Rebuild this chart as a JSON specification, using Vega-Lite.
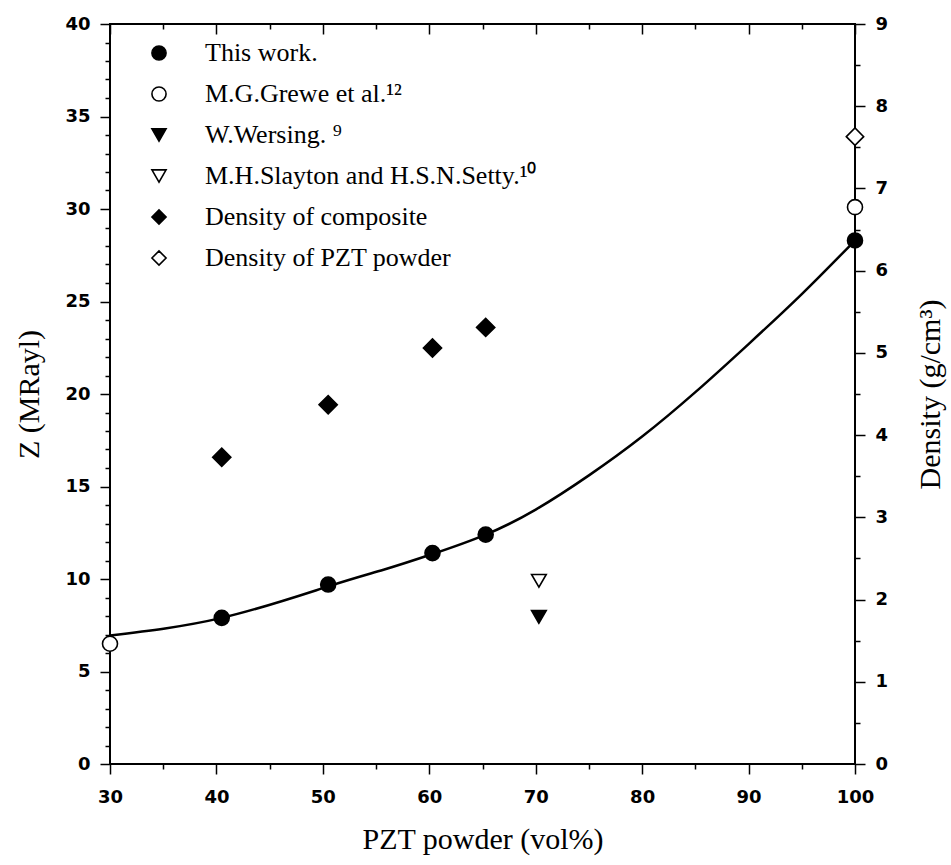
{
  "$schema": "https://vega.github.io/schema/vega-lite/v6.json",
  "autosize": {"type": "none"},
  "width": 745,
  "height": 740,
  "padding": {"left": 110, "top": 24, "right": 96, "bottom": 101},
  "background": "white",
  "datasets": {
    "pts": [
      {"pzt": 40.5, "val": 7.9, "series": "This work."},
      {"pzt": 50.5, "val": 9.7, "series": "This work."},
      {"pzt": 60.3, "val": 11.4, "series": "This work."},
      {"pzt": 65.3, "val": 12.4, "series": "This work."},
      {"pzt": 100, "val": 28.3, "series": "This work."},
      {"pzt": 30, "val": 6.5, "series": "M.G.Grewe et al.¹²"},
      {"pzt": 100, "val": 30.1, "series": "M.G.Grewe et al.¹²"},
      {"pzt": 70.3, "val": 7.95, "series": "W.Wersing. ⁹"},
      {"pzt": 70.3, "val": 9.9, "series": "M.H.Slayton and H.S.N.Setty.¹⁰"},
      {"pzt": 40.5, "val": 3.73, "series": "Density of composite"},
      {"pzt": 50.5, "val": 4.37, "series": "Density of composite"},
      {"pzt": 60.3, "val": 5.06, "series": "Density of composite"},
      {"pzt": 65.3, "val": 5.31, "series": "Density of composite"},
      {"pzt": 100, "val": 7.63, "series": "Density of PZT powder"}
    ],
    "curve": [
      {"pzt": 30, "z": 6.95},
      {"pzt": 40.5, "z": 7.9},
      {"pzt": 50.5, "z": 9.6},
      {"pzt": 55.7, "z": 10.5},
      {"pzt": 60.3, "z": 11.35},
      {"pzt": 65.3, "z": 12.4},
      {"pzt": 70, "z": 13.75},
      {"pzt": 75, "z": 15.6},
      {"pzt": 80, "z": 17.7},
      {"pzt": 85, "z": 20.1},
      {"pzt": 90, "z": 22.7},
      {"pzt": 95, "z": 25.4},
      {"pzt": 100, "z": 28.3}
    ]
  },
  "layer": [
    {
      "data": {"name": "pts"},
      "transform": [{"filter": "datum.series == 'This work.' || datum.series == 'M.G.Grewe et al.¹²'"}],
      "mark": {"type": "point", "strokeWidth": 1.6, "opacity": 1, "size": 225},
      "encoding": {
        "x": {"field": "pzt", "type": "quantitative", "scale": {"domain": [30, 100], "nice": false, "zero": false},
          "axis": {"orient": "bottom", "values": [30, 40, 50, 60, 70, 80, 90, 100], "tickSize": 10, "labelPadding": 14, "title": "PZT powder (vol%)", "titlePadding": 18}},
        "y": {"field": "val", "type": "quantitative", "scale": {"domain": [0, 40], "nice": false, "zero": false},
          "axis": {"orient": "left", "values": [0, 5, 10, 15, 20, 25, 30, 35, 40], "tickSize": 10, "labelPadding": 10, "title": "Z (MRayl)", "titlePadding": 20}},
        "stroke": {"field": "series", "type": "nominal",
          "scale": {"domain": ["This work.", "M.G.Grewe et al.¹²", "W.Wersing. ⁹", "M.H.Slayton and H.S.N.Setty.¹⁰", "Density of composite", "Density of PZT powder"],
                    "range": ["black", "black", "black", "black", "black", "black"]},
          "legend": {"orient": "none", "legendX": 36, "legendY": 16, "title": null}},
        "shape": {"field": "series", "type": "nominal",
          "scale": {"domain": ["This work.", "M.G.Grewe et al.¹²", "W.Wersing. ⁹", "M.H.Slayton and H.S.N.Setty.¹⁰", "Density of composite", "Density of PZT powder"],
                    "range": ["circle", "circle", "triangle-down", "triangle-down", "diamond", "diamond"]},
          "legend": {"orient": "none", "legendX": 36, "legendY": 16, "title": null}},
        "fill": {"field": "series", "type": "nominal",
          "scale": {"domain": ["This work.", "M.G.Grewe et al.¹²", "W.Wersing. ⁹", "M.H.Slayton and H.S.N.Setty.¹⁰", "Density of composite", "Density of PZT powder"],
                    "range": ["black", "white", "black", "white", "black", "white"]},
          "legend": {"orient": "none", "legendX": 36, "legendY": 16, "title": null}}
      }
    },
    {
      "data": {"name": "curve"},
      "mark": {"type": "line", "stroke": "black", "strokeWidth": 2.5, "interpolate": "natural"},
      "encoding": {
        "x": {"field": "pzt", "type": "quantitative", "scale": {"domain": [30, 100], "nice": false, "zero": false},
          "axis": {"orient": "top", "values": [30, 40, 50, 60, 70, 80, 90, 100], "tickSize": -10, "labels": false, "title": null}},
        "y": {"field": "z", "type": "quantitative", "scale": {"domain": [0, 40], "nice": false, "zero": false},
          "axis": {"orient": "left", "values": [1,2,3,4,6,7,8,9,11,12,13,14,16,17,18,19,21,22,23,24,26,27,28,29,31,32,33,34,36,37,38,39], "tickSize": 5, "labels": false, "title": null}}
      }
    },
    {
      "data": {"name": "pts"},
      "transform": [{"filter": "datum.series == 'W.Wersing. ⁹' || datum.series == 'M.H.Slayton and H.S.N.Setty.¹⁰'"}],
      "mark": {"type": "point", "strokeWidth": 1.6, "opacity": 1, "size": 215},
      "encoding": {
        "x": {"field": "pzt", "type": "quantitative", "scale": {"domain": [30, 100], "nice": false, "zero": false}, "axis": null},
        "y": {"field": "val", "type": "quantitative", "scale": {"domain": [0, 40], "nice": false, "zero": false}, "axis": null},
        "stroke": {"field": "series", "type": "nominal"},
        "shape": {"field": "series", "type": "nominal"},
        "fill": {"field": "series", "type": "nominal"}
      }
    },
    {
      "data": {"name": "pts"},
      "transform": [{"filter": "datum.series == 'Density of composite'"}],
      "mark": {"type": "point", "strokeWidth": 1.6, "opacity": 1, "size": 330},
      "encoding": {
        "x": {"field": "pzt", "type": "quantitative", "scale": {"domain": [30, 100], "nice": false, "zero": false},
          "axis": {"orient": "bottom", "values": [35, 45, 55, 65, 75, 85, 95], "tickSize": 5, "labels": false, "title": null}},
        "y": {"field": "val", "type": "quantitative", "scale": {"domain": [0, 9], "nice": false, "zero": false},
          "axis": {"orient": "right", "values": [0, 1, 2, 3, 4, 5, 6, 7, 8, 9], "tickSize": 10, "labelPadding": 10, "title": "Density (g/cm³)", "titleAngle": 270, "titleBaseline": "top", "titlePadding": 28}},
        "stroke": {"field": "series", "type": "nominal"},
        "shape": {"field": "series", "type": "nominal"},
        "fill": {"field": "series", "type": "nominal"}
      }
    },
    {
      "data": {"name": "pts"},
      "transform": [{"filter": "datum.series == 'Density of PZT powder'"}],
      "mark": {"type": "point", "strokeWidth": 1.6, "opacity": 1, "size": 300},
      "encoding": {
        "x": {"field": "pzt", "type": "quantitative", "scale": {"domain": [30, 100], "nice": false, "zero": false},
          "axis": {"orient": "top", "values": [35, 45, 55, 65, 75, 85, 95], "tickSize": -5, "labels": false, "title": null}},
        "y": {"field": "val", "type": "quantitative", "scale": {"domain": [0, 9], "nice": false, "zero": false},
          "axis": {"orient": "right", "values": [0.5, 1.5, 2.5, 3.5, 4.5, 5.5, 6.5, 7.5, 8.5], "tickSize": 5, "labels": false, "title": null}},
        "stroke": {"field": "series", "type": "nominal"},
        "shape": {"field": "series", "type": "nominal"},
        "fill": {"field": "series", "type": "nominal"}
      }
    }
  ],
  "resolve": {
    "scale": {"x": "independent", "y": "independent", "shape": "shared", "fill": "shared", "stroke": "shared"},
    "axis": {"x": "independent", "y": "independent"},
    "legend": {"shape": "shared", "fill": "shared", "stroke": "shared"}
  },
  "config": {
    "view": {"stroke": "black", "strokeWidth": 2},
    "axis": {
      "domain": false, "grid": false,
      "tickColor": "black", "tickWidth": 1.5,
      "labelColor": "black", "titleColor": "black",
      "labelFlush": false, "labelOverlap": false,
      "labelFont": "DejaVu Sans", "labelFontWeight": "bold", "labelFontSize": 18,
      "titleFont": "Liberation Serif", "titleFontSize": 30, "titleFontWeight": "normal"
    },
    "legend": {
      "padding": 0,
      "symbolSize": 200,
      "symbolStrokeWidth": 1.6,
      "labelFont": "Liberation Serif",
      "labelFontSize": 26,
      "labelColor": "black",
      "labelLimit": 600,
      "labelOffset": 33,
      "rowPadding": 15
    }
  }
}
